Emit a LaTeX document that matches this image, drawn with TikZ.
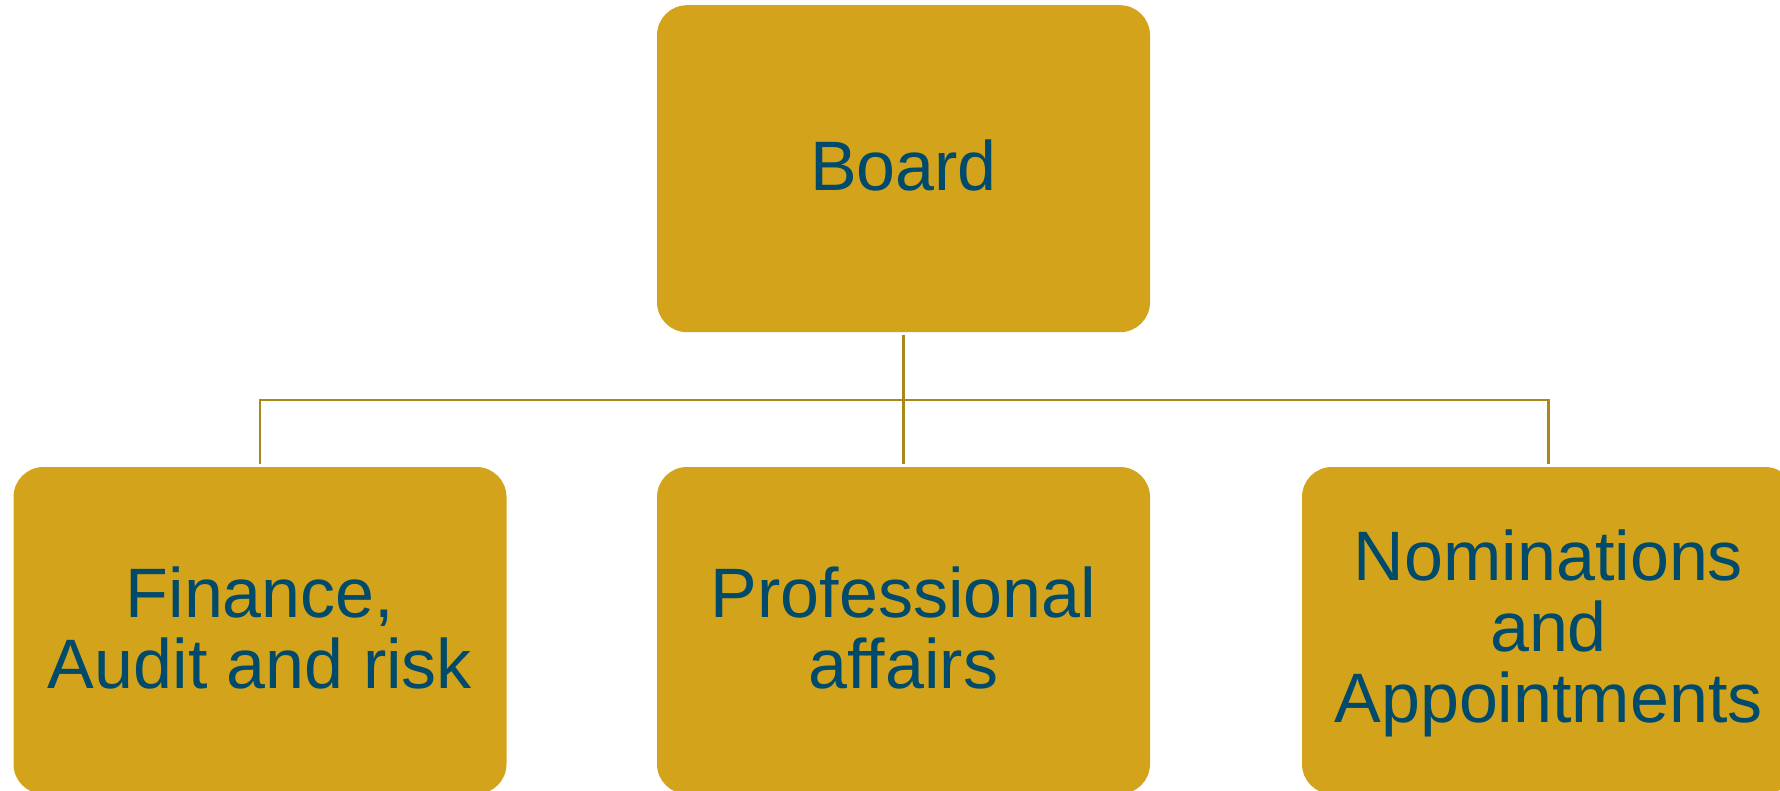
\documentclass[tikz,border=0pt]{standalone}
\usepackage{fontspec}
\setmainfont{Liberation Sans}
\usepackage{xcolor}
\usetikzlibrary{positioning}
\definecolor{boardgold}{RGB}{211,163,28}
\definecolor{linegold}{RGB}{172,135,26}
\definecolor{textblue}{RGB}{0,74,107}
% one line of box text: 28.75pt above, 6.75pt below the baseline
\newcommand{\linestrut}{\rule[-6.75pt]{0pt}{35.5pt}}
\tikzset{
  unit/.style={rectangle, rounded corners=15pt, fill=boardgold, text=textblue,
    minimum width=246.5pt, minimum height=163.5pt, align=center,
    font=\fontsize{35}{35.5}\selectfont},
  link/.style={draw=linegold, line width=1.4pt}
}
\begin{document}
\begin{tikzpicture}[x=0.5pt,y=-0.5pt]
        \clip (0,0) rectangle (1780,791);
        \node[unit] (board) at (903.5,168.7) {Board\linestrut};
        \node[unit] (finance) at (260,630.5) {Finance,\linestrut\\Audit and risk\linestrut};
        \node[unit] (prof) at (903.5,630.5) {Professional\linestrut\\affairs\linestrut};
        \node[unit] (nomin) at (1548.5,630.5) {Nominations\linestrut\\and\linestrut\\Appointments\linestrut};
        \coordinate (bar) at (903.5,400);
        \draw[link, shorten <=1pt, shorten >=1.5pt] (board.south) -- (prof.north);
        \draw[link, shorten <=1.5pt, shorten >=1.5pt] (finance.north) |- (bar) -| (nomin.north);
\end{tikzpicture}
\end{document}
